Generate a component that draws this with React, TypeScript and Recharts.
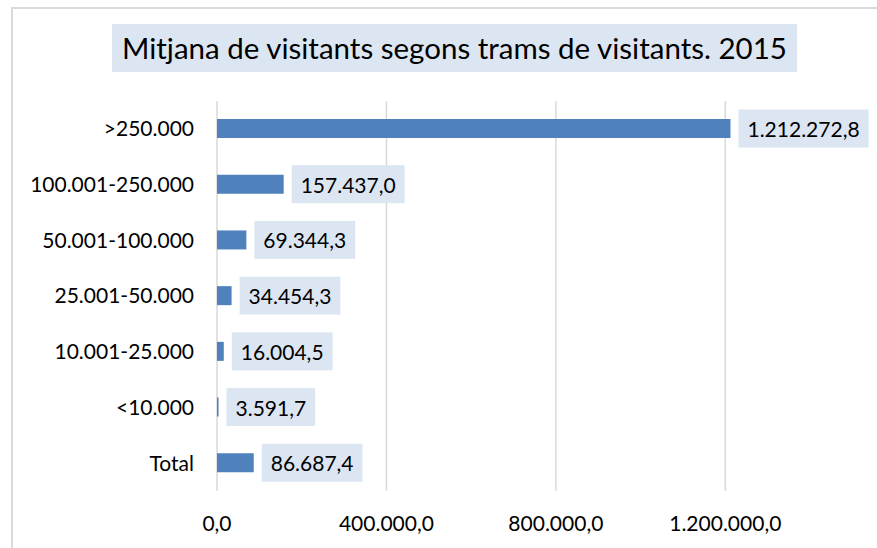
import React from "react";
import {
  BarChart,
  Bar,
  XAxis,
  YAxis,
  CartesianGrid,
  LabelList,
} from "recharts";

const categories = [
  ">250.000",
  "100.001-250.000",
  "50.001-100.000",
  "25.001-50.000",
  "10.001-25.000",
  "<10.000",
  "Total",
];
const mitjana = [1212272.8, 157437.0, 69344.3, 34454.3, 16004.5, 3591.7, 86687.4];
const xTicks = [0, 400000, 800000, 1200000];

const FONT = "Lato, 'Open Sans', sans-serif";
const BAR_BLUE = "#4F81BD";
const BOX_FILL = "#DCE6F2";

const data = categories.map((c, i) => ({ tram: c, value: mitjana[i] }));

// 1234567.8 -> "1.234.567,8"
function fmt(v: number) {
  const [int, dec] = v.toFixed(1).split(".");
  return int.replace(/\B(?=(\d{3})+(?!\d))/g, ".") + "," + dec;
}

let ctx: CanvasRenderingContext2D | null = null;
function textWidth(s: string, size: number) {
  if (!ctx) ctx = document.createElement("canvas").getContext("2d");
  if (!ctx) return s.length * size * 0.55;
  ctx.font = `${size}px Lato`;
  return ctx.measureText(s).width;
}

const BoxLabel = (props: any) => {
  const { x, y, width, height, value } = props;
  const s = fmt(value);
  const tw = textWidth(s, 21);
  const bw = tw + 18;
  const bh = 38;
  const bx = x + width + 8;
  const cy = y + height / 2;
  return (
    <g>
      <rect x={bx} y={cy - bh / 2} width={bw} height={bh} fill={BOX_FILL} />
      <text
        x={bx + bw / 2}
        y={cy}
        textAnchor="middle"
        dominantBaseline="central"
        fontFamily={FONT}
        fontSize={21}
        fill="#000"
      >
        {s}
      </text>
    </g>
  );
};

export default function App() {
  return (
    <div
      style={{
        position: "fixed",
        left: 0,
        top: 0,
        width: 877,
        height: 548,
        overflow: "hidden",
        background: "#fff",
        fontFamily: FONT,
      }}
    >
      {/* chart frame: only top and left edges are in view */}
      <svg
        width={877}
        height={548}
        style={{ position: "absolute", left: 0, top: 0 }}
      >
        <path d="M12 548 V8 H877" fill="none" stroke="#DADADA" strokeWidth={2} />
      </svg>
      <div
        style={{
          position: "absolute",
          left: 112,
          top: 24,
          width: 685,
          height: 48,
          background: BOX_FILL,
          color: "#000",
          fontSize: 29.5,
          lineHeight: "48px",
          textAlign: "center",
          whiteSpace: "nowrap",
        }}
      >
        Mitjana de visitants segons trams de visitants. 2015
      </div>
      <div style={{ position: "absolute", left: 0, top: 0 }}>
        <BarChart
          layout="vertical"
          width={877}
          height={548}
          data={data}
          margin={{ top: 101, right: 67, bottom: 0, left: 0 }}
        >
          <CartesianGrid
            horizontal={false}
            syncWithTicks
            stroke="#D9D9D9"
            strokeWidth={1.5}
          />
          <XAxis
            type="number"
            domain={[0, 1400000]}
            ticks={xTicks}
            tickFormatter={fmt}
            axisLine={false}
            tickLine={false}
            tickMargin={19}
            height={57}
            interval={0}
            tick={{ fontSize: 21, fill: "#000", fontFamily: FONT }}
          />
          <YAxis
            type="category"
            dataKey="tram"
            width={217}
            axisLine={false}
            tickLine={false}
            tickMargin={17}
            interval={0}
            tick={{ fontSize: 21, fill: "#000", fontFamily: FONT }}
          />
          <Bar dataKey="value" fill={BAR_BLUE} barSize={19} isAnimationActive={false}>
            <LabelList dataKey="value" content={<BoxLabel />} />
          </Bar>
        </BarChart>
      </div>
    </div>
  );
}
